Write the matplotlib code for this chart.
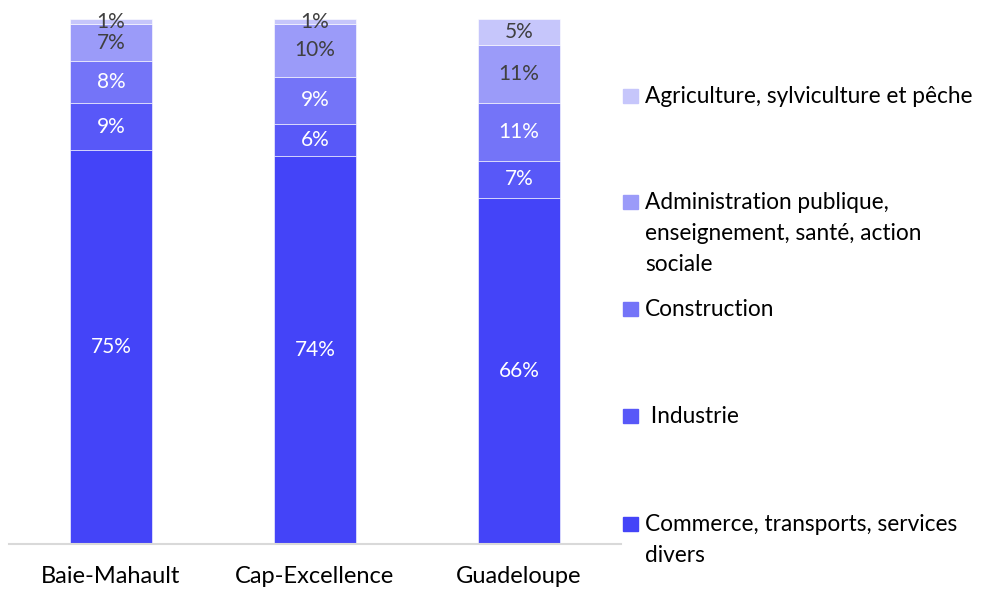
import matplotlib
matplotlib.use("Agg")
import matplotlib.pyplot as plt
from matplotlib.patches import Rectangle
import numpy as np

plt.rcParams['font.family'] = ['Lato', 'DejaVu Sans']

categories = ["Baie-Mahault", "Cap-Excellence", "Guadeloupe"]
series_names = [
    "Commerce, transports, services\ndivers",
    " Industrie",
    "Construction",
    "Administration publique,\nenseignement, santé, action\nsociale",
    "Agriculture, sylviculture et pêche",
]
commerce = [75, 74, 66]
industrie = [9, 6, 7]
construction = [8, 9, 11]
administration = [7, 10, 11]
agriculture = [1, 1, 5]
values = [commerce, industrie, construction, administration, agriculture]

colors = ['#4444F8', '#5858F8', '#7474F8', '#9B9BF9', '#C6C6FB']
label_colors = ['white', 'white', 'white', '#404040', '#404040']

W, H = 1002, 590
fig = plt.figure(figsize=(W / 100, H / 100), dpi=100)
ax = fig.add_axes([9 / W, (H - 544) / H, 612 / W, 525 / H])

x = np.arange(len(categories))
bottom = np.zeros(len(categories))
for vals, col, lc in zip(values, colors, label_colors):
    vals = np.array(vals, dtype=float)
    ax.bar(x, vals, width=0.4, bottom=bottom, color=col,
           edgecolor='white', linewidth=0.4)
    for xi, b, v in zip(x, bottom, vals):
        ax.text(xi, b + v / 2, f"{int(v)}%", ha='center', va='center',
                color=lc, fontsize=15)
    bottom += vals

ax.set_xlim(-0.5, 2.5)
ax.set_ylim(0, 100)
ax.set_yticks([])
ax.set_xticks(x)
ax.set_xticklabels(categories, fontsize=17)
ax.tick_params(axis='x', length=0, pad=16)
for s in ['top', 'right', 'left']:
    ax.spines[s].set_visible(False)
ax.spines['bottom'].set_color('#D9D9D9')
ax.spines['bottom'].set_linewidth(1.5)

# legend (manual, Excel-like spacing), top entry = last series
legend_y = [96, 202, 309, 416, 524]  # first-line centers in px from top
order = [4, 3, 2, 1, 0]
for yy, idx in zip(legend_y, order):
    fig.patches.append(Rectangle((623 / W, 1 - (yy + 7) / H), 15 / W, 14 / H,
                                 transform=fig.transFigure, color=colors[idx]))
    fig.text(645 / W, 1 - (yy - 10) / H, series_names[idx], ha='left', va='top',
             fontsize=16.3, color='black', linespacing=1.6)

fig.savefig("out.png", dpi=100)
